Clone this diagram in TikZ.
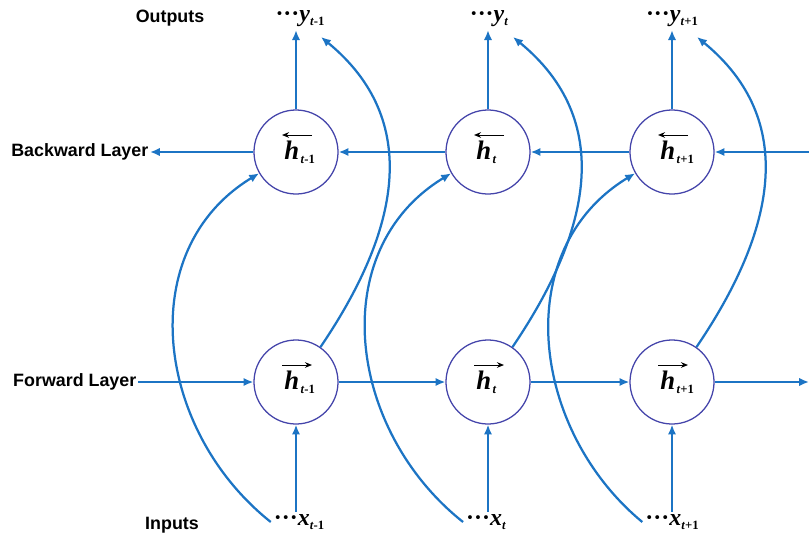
\documentclass[tikz,border=0pt]{standalone}
\usepackage{fontspec}
\usepackage{tikz,xcolor}
\usetikzlibrary{arrows.meta}
\usetikzlibrary{positioning}

\setmainfont{Liberation Sans}
\newfontfamily\symfont{Liberation Serif}

\definecolor{linkblue}{HTML}{1C74C4}
\definecolor{circblue}{HTML}{4444AA}

% sequence label: dots, letter, subscript t#2
\newcommand{\seqlbl}[2]{{\symfont\bfseries\fontsize{17}{17}\selectfont
  \textperiodcentered\textperiodcentered\textperiodcentered\textit{#1}}%
  \raisebox{-0.45ex}{\symfont\bfseries\fontsize{9}{9}\selectfont\textit{t}#2}}
% hidden state h with subscript (arrow drawn in the picture)
\newcommand{\hstate}[1]{{\symfont\bfseries\itshape\fontsize{19}{19}\selectfont h}%
  \rlap{\raisebox{-0.5ex}{\kern1pt\symfont\bfseries\fontsize{9}{9}\selectfont\textit{t}#1}}\kern6pt}

\tikzset{
  hnode/.style={circle, draw=circblue, line width=0.9pt, fill=white,
    minimum size=2.1cm, inner sep=0pt},
  link/.style={draw=linkblue, line width=1.6pt, -{Latex[length=7pt,width=6pt]}},
  hvec/.style={black, line width=0.7pt, -{Stealth[length=5pt,width=4pt]}},
  layer/.style={font=\bfseries\fontsize{12.7}{14}\selectfont, inner sep=1pt},
  seq/.style={inner sep=2pt}
}

\begin{document}
\begin{tikzpicture}[x=0.025cm, y=-0.025cm]
  \useasboundingbox (0,0) rectangle (809,539);

  % Titulos das camadas
  \node[layer] (out) at (170,18) {Outputs};
  \node[layer, anchor=east] (bl) at (150,152) {Backward Layer};
  \node[layer, anchor=east] (fl) at (138,382) {Forward Layer};
  \node[layer] (inp) at (172,525) {Inputs};

  % Estados (backward em cima, forward embaixo)
  \node[hnode] (hb1) at (296,152) {\hstate{-1}};
  \node[hnode] (hb2) at (488,152) {\hstate{}};
  \node[hnode] (hb3) at (672,152) {\hstate{+1}};
  \node[hnode] (hf1) at (296,382) {\hstate{-1}};
  \node[hnode] (hf2) at (488,382) {\hstate{}};
  \node[hnode] (hf3) at (672,382) {\hstate{+1}};

  % Saidas e entradas
  \node[seq] (y1) at (300,19) {\seqlbl{y}{-1}};
  \node[seq] (y2) at (489,19) {\seqlbl{y}{}};
  \node[seq] (y3) at (672,19) {\seqlbl{y}{+1}};
  \node[seq] (x1) at (299,522) {\seqlbl{x}{-1}};
  \node[seq] (x2) at (486,522) {\seqlbl{x}{}};
  \node[seq] (x3) at (672,522) {\seqlbl{x}{+1}};

  % Bordas da direita
  \coordinate (bR) at (809,152);
  \coordinate (fR) at (809,382);

  % Camada backward (da direita para a esquerda)
  \draw[link] (bR) -- (hb3.east);
  \draw[link] (hb3.west) -- (hb2.east);
  \draw[link] (hb2.west) -- (hb1.east);
  \draw[link] (hb1.west) -- (bl.east);

  % Camada forward
  \draw[link] (fl.east) -- (hf1.west);
  \draw[link] (hf1.east) -- (hf2.west);
  \draw[link] (hf2.east) -- (hf3.west);
  \draw[link] (hf3.east) -- (fR);

  \foreach \i/\cx in {1/296, 2/488, 3/672} {
    % setas sobre o h
    \draw[hvec] ([shift={(16,-17)}]hb\i.center) -- ++(-30,0);
    \draw[hvec] ([shift={(-14,-17)}]hf\i.center) -- ++(30,0);
    % pontas das curvas nas saidas
    \coordinate (o\i) at (\cx+25,37);
    % verticais
    \draw[link] (hb\i.north) -- (hb\i.north |- y\i.south);
    \draw[link] (hf\i.south |- x\i.north) -- (hf\i.south);
    % entrada -> backward
    \draw[link] (x\i.west) .. controls (\cx-141,430) and (\cx-163,250) .. (hb\i.210);
    % forward -> saida
    \draw[link] (hf\i.55) .. controls (\cx+104,230) and (\cx+126,120) .. (o\i);
  }
\end{tikzpicture}
\end{document}
